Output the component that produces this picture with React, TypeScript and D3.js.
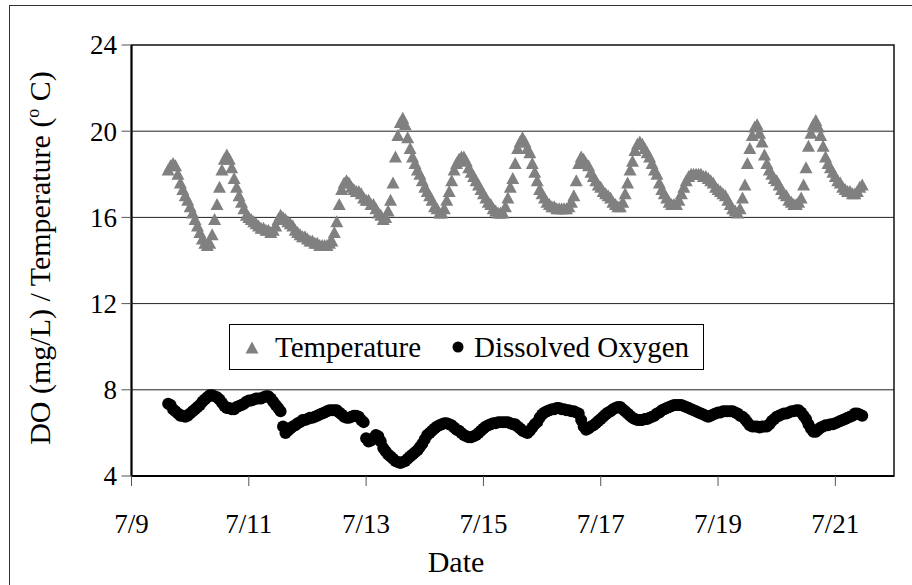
import React from "react"
import * as d3 from "d3"

const xTickLabels = ["7/9", "7/11", "7/13", "7/15", "7/17", "7/19", "7/21"]
const yTicks = [4, 8, 12, 16, 20, 24]
const seriesNames = ["Temperature", "Dissolved Oxygen"]

// hourly readings, first one taken 7/9 15:00
const firstReading = "2008-07-09T15:00:00"
const axisStart = "2008-07-09T00:00:00"
const axisEnd = "2008-07-22T00:00:00"

// deg C, one row per day
const temperature = [
  18.2, 18.4, 18.5, 18.4, 18.0, 17.6, 17.3, 17.0, 16.8,
  16.5, 16.2, 15.9, 15.6, 15.3, 15.0, 14.8, 14.7, 14.8, 15.2, 15.9, 16.6, 17.4, 18.2, 18.7, 18.9, 18.7, 18.3, 17.8, 17.4, 17.0, 16.7, 16.4, 16.1,
  16.0, 15.9, 15.8, 15.7, 15.6, 15.5, 15.5, 15.4, 15.4, 15.3, 15.4, 15.6, 15.9, 16.1, 16.0, 15.9, 15.8, 15.7, 15.6, 15.4, 15.3, 15.2, 15.1, 15.1,
  15.0, 14.9, 14.9, 14.8, 14.8, 14.7, 14.7, 14.7, 14.7, 14.8, 14.9, 15.3, 15.8, 16.6, 17.3, 17.6, 17.7, 17.6, 17.4, 17.3, 17.2, 17.2, 17.1, 16.9,
  16.8, 16.8, 16.6, 16.6, 16.4, 16.2, 16.1, 15.9, 16.0, 16.3, 16.8, 17.6, 18.8, 19.8, 20.4, 20.6, 20.3, 19.7, 19.2, 18.8, 18.5, 18.2, 18.0, 17.7,
  17.4, 17.2, 17.0, 16.8, 16.5, 16.4, 16.2, 16.2, 16.4, 16.8, 17.2, 17.7, 18.2, 18.5, 18.7, 18.8, 18.8, 18.6, 18.3, 18.1, 17.9, 17.7, 17.5, 17.3,
  17.1, 16.9, 16.7, 16.6, 16.4, 16.3, 16.2, 16.2, 16.2, 16.5, 16.9, 17.4, 17.8, 18.5, 19.2, 19.5, 19.7, 19.5, 19.2, 19.0, 18.5, 18.1, 17.7, 17.3,
  17.1, 16.9, 16.7, 16.6, 16.5, 16.5, 16.4, 16.4, 16.4, 16.4, 16.4, 16.5, 16.7, 17.0, 17.7, 18.5, 18.8, 18.7, 18.5, 18.4, 18.1, 17.9, 17.7, 17.5,
  17.4, 17.2, 17.1, 17.0, 16.9, 16.7, 16.6, 16.5, 16.5, 16.7, 17.1, 17.6, 18.2, 18.6, 19.1, 19.4, 19.5, 19.4, 19.2, 19.0, 18.8, 18.5, 18.2, 18.0,
  17.6, 17.3, 17.1, 16.9, 16.7, 16.6, 16.6, 16.6, 16.8, 17.1, 17.4, 17.7, 17.9, 18.0, 18.0, 18.0, 18.0, 18.0, 17.9, 17.9, 17.8, 17.7, 17.6, 17.4,
  17.3, 17.2, 17.1, 17.0, 16.8, 16.6, 16.4, 16.3, 16.2, 16.4, 16.9, 17.5, 18.5, 19.2, 19.8, 20.2, 20.3, 19.9, 19.5, 18.9, 18.5, 18.2, 18.0, 17.8,
  17.7, 17.5, 17.3, 17.1, 17.0, 16.8, 16.7, 16.6, 16.6, 16.7, 16.9, 17.5, 18.3, 19.3, 19.9, 20.3, 20.5, 20.2, 19.8, 19.3, 18.8, 18.5, 18.3, 18.1,
  17.9, 17.7, 17.6, 17.4, 17.3, 17.2, 17.2, 17.1, 17.1, 17.2, 17.4, 17.5,
]

// mg/L, one row per day
const dissolvedOxygen = [
  7.35, 7.3, 7.1, 7.0, 6.9, 6.8, 6.8, 6.75, 6.8,
  6.9, 7.0, 7.1, 7.2, 7.3, 7.45, 7.55, 7.65, 7.75, 7.75, 7.7, 7.65, 7.55, 7.4, 7.25, 7.15, 7.15, 7.1, 7.1, 7.2, 7.25, 7.3, 7.35, 7.45,
  7.5, 7.5, 7.55, 7.6, 7.6, 7.6, 7.65, 7.7, 7.7, 7.6, 7.45, 7.3, 7.15, 7.0, 6.3, 6.0, 6.1, 6.2, 6.3, 6.35, 6.45, 6.5, 6.6, 6.6,
  6.65, 6.7, 6.7, 6.75, 6.8, 6.85, 6.9, 6.95, 7.0, 7.05, 7.05, 7.05, 7.05, 6.95, 6.85, 6.75, 6.7, 6.7, 6.75, 6.8, 6.8, 6.75, 6.6, 6.5,
  5.75, 5.6, 5.65, 5.75, 5.9, 5.85, 5.6, 5.3, 5.15, 5.0, 4.9, 4.8, 4.7, 4.65, 4.6, 4.65, 4.7, 4.8, 4.9, 5.0, 5.1, 5.2, 5.35, 5.5,
  5.7, 5.9, 6.0, 6.1, 6.2, 6.3, 6.35, 6.4, 6.45, 6.45, 6.4, 6.35, 6.25, 6.15, 6.1, 6.0, 5.9, 5.85, 5.8, 5.8, 5.85, 5.9, 6.0, 6.1,
  6.2, 6.3, 6.35, 6.4, 6.45, 6.45, 6.5, 6.5, 6.5, 6.5, 6.5, 6.45, 6.4, 6.4, 6.3, 6.2, 6.1, 6.05, 6.0, 6.1, 6.25, 6.4, 6.5, 6.7,
  6.85, 6.95, 7.0, 7.05, 7.1, 7.1, 7.15, 7.15, 7.1, 7.1, 7.05, 7.05, 7.0, 7.0, 6.95, 6.9, 6.6, 6.3, 6.15, 6.2, 6.3, 6.35, 6.45, 6.55,
  6.65, 6.75, 6.85, 6.95, 7.0, 7.1, 7.15, 7.2, 7.2, 7.1, 7.0, 6.9, 6.8, 6.7, 6.65, 6.6, 6.6, 6.6, 6.65, 6.65, 6.7, 6.75, 6.8, 6.9,
  6.95, 7.05, 7.1, 7.15, 7.2, 7.25, 7.3, 7.3, 7.3, 7.3, 7.25, 7.2, 7.15, 7.1, 7.05, 7.0, 6.95, 6.9, 6.85, 6.8, 6.75, 6.8, 6.85, 6.9,
  6.95, 6.95, 7.0, 7.0, 7.0, 7.0, 7.0, 6.95, 6.9, 6.8, 6.75, 6.65, 6.5, 6.35, 6.3, 6.3, 6.3, 6.25, 6.3, 6.3, 6.3, 6.4, 6.55, 6.65,
  6.75, 6.8, 6.85, 6.9, 6.9, 6.95, 7.0, 7.0, 7.05, 7.05, 6.95, 6.8, 6.65, 6.4, 6.2, 6.05, 6.05, 6.15, 6.25, 6.3, 6.35, 6.35, 6.4, 6.4,
  6.45, 6.5, 6.55, 6.6, 6.65, 6.7, 6.75, 6.8, 6.9, 6.9, 6.85, 6.8,
]

const font = "'Liberation Serif', 'Times New Roman', serif"
const triangle = "M0,-6.5L6.5,5.5L-6.5,5.5Z"

export default function App() {
  const parse = d3.timeParse("%Y-%m-%dT%H:%M:%S")
  const t0 = parse(firstReading)!
  const year = t0.getFullYear()

  const plot = { left: 131.5, right: 894, top: 45, bottom: 476 }

  const x = d3
    .scaleTime()
    .domain([parse(axisStart)!, parse(axisEnd)!])
    .range([plot.left, plot.right])
  const y = d3.scaleLinear().domain([4, 24]).range([plot.bottom, plot.top])

  const tempPts = temperature.map((v, i) => ({ t: d3.timeHour.offset(t0, i), v }))
  const doPts = dissolvedOxygen.map((v, i) => ({ t: d3.timeHour.offset(t0, i), v }))

  const tickDates = xTickLabels.map((s) => {
    const [m, d] = s.split("/").map(Number)
    return new Date(year, m - 1, d)
  })

  return (
    <svg
      width={912}
      height={585}
      style={{ position: "absolute", left: 0, top: 0, background: "#fff" }}
      fontFamily={font}
    >
      {/* outer chart frame */}
      <line x1={9.5} x2={9.5} y1={5} y2={585} stroke="#333" strokeWidth={1} />
      <line x1={9} x2={912} y1={5.5} y2={5.5} stroke="#333" strokeWidth={1} />

      {/* gridlines */}
      {yTicks.slice(1, -1).map((v) => (
        <line key={v} x1={plot.left} x2={plot.right} y1={y(v)} y2={y(v)} stroke="#222" strokeWidth={1} />
      ))}

      {/* plot border */}
      <rect
        x={plot.left}
        y={plot.top}
        width={plot.right - plot.left}
        height={plot.bottom - plot.top}
        fill="none"
        stroke="#111"
        strokeWidth={1.5}
      />
      <line x1={plot.left} x2={plot.left} y1={plot.top} y2={plot.bottom} stroke="#000" strokeWidth={2} />
      <line x1={plot.left} x2={plot.right} y1={plot.bottom} y2={plot.bottom} stroke="#000" strokeWidth={2} />

      {/* y ticks */}
      {yTicks.map((v) => (
        <g key={v}>
          <line x1={plot.left - 10} x2={plot.left} y1={y(v)} y2={y(v)} stroke="#555" strokeWidth={1} />
          <text x={117} y={y(v)} dy="0.35em" textAnchor="end" fontSize={27}>
            {v}
          </text>
        </g>
      ))}

      {/* x ticks */}
      {tickDates.map((d, i) => (
        <g key={i}>
          <line x1={x(d)} x2={x(d)} y1={plot.bottom} y2={plot.bottom + 10} stroke="#555" strokeWidth={1} />
          <text x={x(d)} y={533} textAnchor="middle" fontSize={27}>
            {xTickLabels[i]}
          </text>
        </g>
      ))}

      {/* temperature */}
      <g fill="#808080">
        {tempPts.map((p, i) => (
          <path key={i} d={triangle} transform={`translate(${x(p.t)},${y(p.v)})`} />
        ))}
      </g>

      {/* dissolved oxygen */}
      <g fill="#000">
        {doPts.map((p, i) => (
          <circle key={i} cx={x(p.t)} cy={y(p.v)} r={6} />
        ))}
      </g>

      {/* legend */}
      <rect x={229.5} y={324.5} width={474} height={45} fill="#fff" stroke="#000" strokeWidth={1} />
      <path d={triangle} fill="#808080" transform="translate(252,348)" />
      <text x={275} y={357} fontSize={29}>
        {seriesNames[0]}
      </text>
      <circle cx={458} cy={347} r={5.5} fill="#000" />
      <text x={474} y={357} fontSize={29}>
        {seriesNames[1]}
      </text>

      {/* axis titles */}
      <text x={456} y={572} textAnchor="middle" fontSize={30}>
        Date
      </text>
      <text transform="translate(50,258) rotate(-90)" textAnchor="middle" fontSize={30}>
        DO (mg/L) / Temperature (
        <tspan dy={-11} fontSize={18}>
          o
        </tspan>
        <tspan dy={11}> C)</tspan>
      </text>
    </svg>
  )
}
